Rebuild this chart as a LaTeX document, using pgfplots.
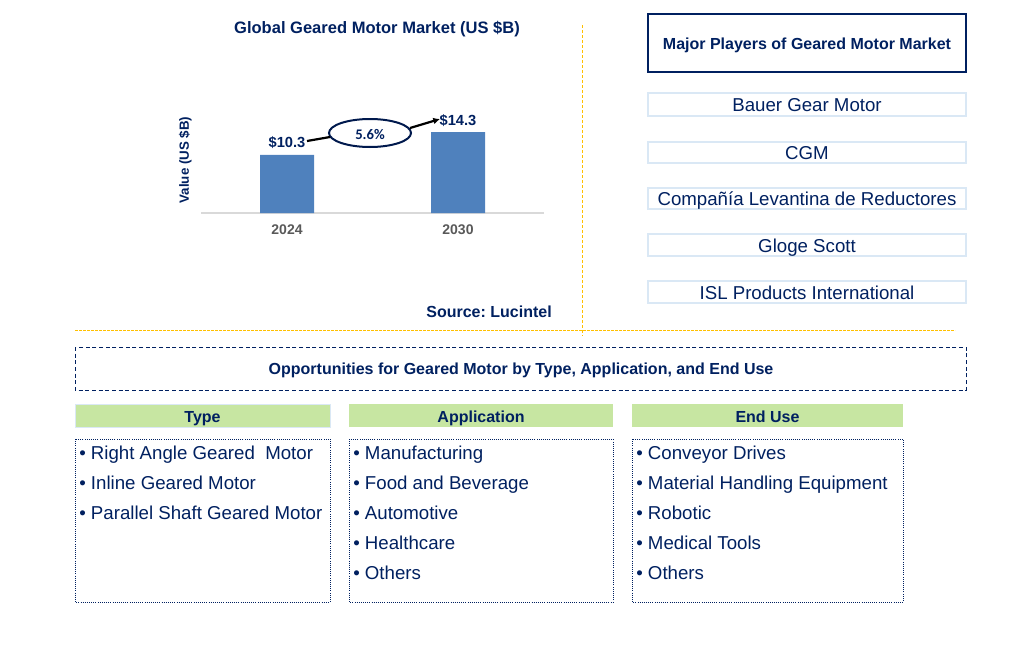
\documentclass[border=0pt]{standalone}
\usepackage{pgfplots}
\pgfplotsset{compat=1.18}
\usetikzlibrary{arrows.meta}
\usepackage{fontspec}
\setmainfont{Liberation Sans}
\newfontfamily\calibri{Carlito}
\definecolor{navy}{HTML}{002060}
\definecolor{barblue}{HTML}{4F81BD}
\definecolor{tickgray}{HTML}{595959}
\definecolor{axisgray}{HTML}{D9D9D9}
\definecolor{gold}{HTML}{FFC000}
\definecolor{lightblue}{HTML}{DAE8F5}
\definecolor{hdrgreen}{HTML}{C7E6A2}
\newcommand{\fs}[1]{\fontsize{#1}{#1}\selectfont}
\frenchspacing

\begin{document}
\begin{tikzpicture}[every node/.style={text height=0.72em, text depth=0pt}]
\begin{scope}[x=0.75pt,y=-0.75pt, every node/.append style={yshift=-1.5pt}]
\path (0,0) rectangle (1009,646);
% chart title and side texts
\node[text=navy, font=\fs{12.4pt}\bfseries] at (377,27) {Global Geared Motor Market (US \$B)};
\node[text=navy, font=\fs{10pt}\bfseries, rotate=90, yshift=1.5pt, xshift=1.5pt] at (186,160) {Value (US \$B)};
\node[text=navy, font=\fs{12pt}\bfseries, anchor=east, inner sep=0pt] at (552,311) {Source: Lucintel};
% growth ellipse
\draw[navy!80!black, line width=1.5pt] (370,133) ellipse [x radius=41, y radius=14];
\node[text=navy, font=\calibri\fs{11pt}\bfseries] at (370,133) {5.6\%};
\draw[line width=1.65pt] (307,141) -- (330,137);
\draw[-{Latex[length=5pt,width=5pt]}, line width=1.65pt] (410,128) -- (440,119);
% separators
\draw[gold, dash pattern=on 2.25pt off 1.5pt, line width=0.6pt] (582,25) -- (582,336);
\draw[gold, dash pattern=on 2.25pt off 0.75pt, line width=0.6pt] (75,330) -- (955,330);
% major players
\draw[navy, line width=0.9pt] (648,14) rectangle (966,72);
\node[text=navy, font=\fs{12pt}\bfseries] at (807,43) {Major Players of Geared Motor Market};
\foreach \yt/\yb/\name in {93/116/Bauer Gear Motor, 142/163/CGM, 188/209/Compañía Levantina de Reductores, 234/256/Gloge Scott, 281/303/ISL Products International}{
  \draw[lightblue, line width=0.9pt] (648,\yt) rectangle (966,\yb);
  \node[text=navy, font=\fs{14pt}] at (807,{(\yt+\yb)/2+0.5}) {\name};
}
% opportunities
\draw[navy, densely dashed, line width=0.6pt] (75,347) rectangle (966,390);
\node[text=navy, font=\fs{12pt}\bfseries] at (521,368) {Opportunities for Geared Motor by Type, Application, and End Use};
\foreach \xl/\xr/\hd in {75/330/Type, 349/613/Application, 632/903/End Use}{
  \fill[hdrgreen] (\xl,404) rectangle (\xr,427);
  \node[text=navy, font=\fs{12pt}\bfseries] at ({(\xl+\xr)/2},415.5) {\hd};
  \draw[navy, densely dotted, line width=0.6pt] (\xl,439) rectangle (\xr,602);
}
\draw[lightblue, line width=0.6pt] (75,404) rectangle (330,427);
\foreach \i/\t in {0/Right Angle Geared\ \ Motor, 1/Inline Geared Motor, 2/Parallel Shaft Geared Motor}
  \node[text=navy, font=\fs{14pt}, anchor=west, inner sep=0pt] at (79,{453+30*\i}) {• \t};
\foreach \i/\t in {0/Manufacturing, 1/Food and Beverage, 2/Automotive, 3/Healthcare, 4/Others}
  \node[text=navy, font=\fs{14pt}, anchor=west, inner sep=0pt] at (353,{453+30*\i}) {• \t};
\foreach \i/\t in {0/Conveyor Drives, 1/Material Handling Equipment, 2/Robotic, 3/Medical Tools, 4/Others}
  \node[text=navy, font=\fs{14pt}, anchor=west, inner sep=0pt] at (636,{453+30*\i}) {• \t};
\end{scope}

\begin{axis}[
  at={(150.75pt,-159.75pt)}, anchor=south west,
  scale only axis, width=257.25pt, height=84.75pt,
  xmin=-0.503, xmax=1.503, ymin=0, ymax=20,
  axis x line*=bottom, axis y line=none,
  axis line style={draw=axisgray, line width=1pt, -},
  xtick={0,1}, xticklabels={2024,2030}, ytick=\empty,
  major tick length=0pt,
  xticklabel style={font=\fs{10.5pt}\bfseries, text=tickgray, yshift=-5.5pt},
  ybar, bar width=40.5pt, clip=false,
  /pgf/number format/assume math mode=true,
  nodes near coords={\$\pgfmathprintnumber[fixed,fixed zerofill,precision=1]{\pgfplotspointmeta}},
  every node near coord/.append style={font=\fs{11pt}\bfseries, text=navy, anchor=center, yshift=9pt},
]
\addplot[fill=barblue, draw=none] coordinates {(0,10.3) (1,14.3)};
\end{axis}
\end{tikzpicture}
\end{document}
